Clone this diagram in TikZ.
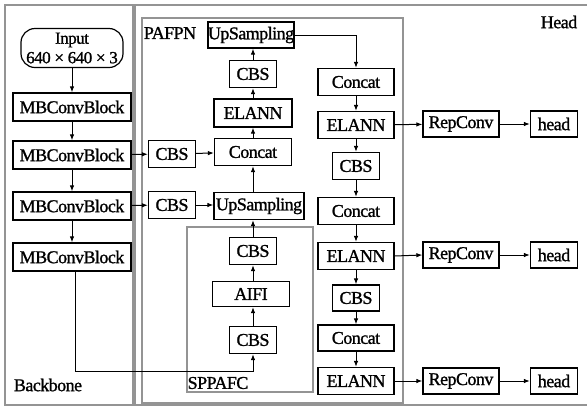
\documentclass[tikz,border=0pt]{standalone}
\usepackage{fontspec}
\setmainfont{Liberation Serif}
\newfontfamily\dfont{Liberation Serif}[FakeBold=1.2,LetterSpace=-3]
\usetikzlibrary{arrows.meta}
\begin{document}
\begin{tikzpicture}[x=1pt,y=-1pt,
  every node/.style={font=\dfont\fontsize{18}{17}\selectfont},
  blk/.style={draw=black,line width=1.2pt,inner sep=0pt,minimum height=27pt},
  frm/.style={draw=black!42,line width=1.4pt},
  lbl/.style={inner sep=0pt},
  arr/.style={draw=black,line width=1pt,-{Latex[length=6pt,width=4.5pt]}},
  ln/.style={draw=black,line width=1pt}]
\useasboundingbox (0,0) rectangle (587,408);
% frames
\draw[frm] (5,5) rectangle (133,405);
\draw[frm] (590,5) -- (135,5) -- (135,405) -- (590,405);
\draw[frm] (142,18) rectangle (403,403);
\draw[frm] (187,227) rectangle (313,392);
% labels
\node[lbl] (lpafpn) at (170,33) {PAFPN};
\node[lbl] (lhead) at (559,22) {Head};
\node[lbl] (lback) at (48,385) {Backbone};
\node[lbl] (lspp) at (218,383) {SPPAFC};
% backbone
\node[blk,rounded corners=14pt,minimum width=102pt,minimum height=39pt,align=center,inner sep=0pt,font=\dfont\fontsize{17}{19.5}\selectfont] (inp) at (72,48) {Input\\640 × 640 × 3};
\node[blk,minimum width=118pt,minimum height=28pt] (mb1) at (72,107) {MBConvBlock};
\node[blk,minimum width=118pt,minimum height=28pt] (mb2) at (72,155) {MBConvBlock};
\node[blk,minimum width=118pt,minimum height=28pt] (mb3) at (72,206) {MBConvBlock};
\node[blk,minimum width=118pt,minimum height=28pt] (mb4) at (72,257) {MBConvBlock};
% PAFPN left
\node[blk,minimum width=47pt] (cbsA) at (172,154) {CBS};
\node[blk,minimum width=47pt] (cbsB) at (172,205) {CBS};
\node[blk,minimum width=77pt] (concatL) at (253,152) {Concat};
\node[blk,minimum width=90pt] (upL) at (259,206) {UpSampling};
\node[blk,minimum width=78pt,minimum height=28pt] (elannL) at (253,113) {ELANN};
\node[blk,minimum width=47pt] (cbsT) at (253,74) {CBS};
\node[blk,minimum width=86pt,minimum height=26pt] (upT) at (251,35) {UpSampling};
% SPPAFC
\node[blk,minimum width=47pt] (cbsS1) at (253,251) {CBS};
\node[blk,minimum width=77pt,minimum height=25pt] (aifi) at (251,294) {AIFI};
\node[blk,minimum width=47pt] (cbsS2) at (253,340) {CBS};
% right column
\node[blk,minimum width=76pt] (concatR1) at (356,82) {Concat};
\node[blk,minimum width=76pt] (elannR1) at (356,125) {ELANN};
\node[blk,minimum width=47pt] (cbsR1) at (356,166) {CBS};
\node[blk,minimum width=76pt] (concatR2) at (356,211) {Concat};
\node[blk,minimum width=76pt] (elannR2) at (356,256) {ELANN};
\node[blk,minimum width=47pt,minimum height=26pt] (cbsR2) at (356,298) {CBS};
\node[blk,minimum width=76pt,minimum height=26pt] (concatR3) at (356,338) {Concat};
\node[blk,minimum width=76pt] (elannR3) at (356,381) {ELANN};
% head
\node[blk,minimum width=76pt,minimum height=26pt] (rep1) at (461,124) {RepConv};
\node[blk,minimum width=76pt,minimum height=26pt] (rep2) at (461,255) {RepConv};
\node[blk,minimum width=76pt,minimum height=26pt] (rep3) at (461,381) {RepConv};
\node[blk,minimum width=47pt,minimum height=26pt] (head1) at (554,124) {head};
\node[blk,minimum width=47pt,minimum height=26pt] (head2) at (554,255) {head};
\node[blk,minimum width=47pt,minimum height=26pt] (head3) at (554,381) {head};
% backbone arrows
\draw[arr] (inp) -- (mb1);
\draw[arr] (mb1) -- (mb2);
\draw[arr] (mb2) -- (mb3);
\draw[arr] (mb3) -- (mb4);
\coordinate (turn) at (75,371);
\draw[arr] ([xshift=3pt]mb4.south) -- (turn) -| (cbsS2.south);
% lateral
\draw[arr] (mb2) -- (cbsA);
\draw[arr] (mb3) -- (cbsB);
\draw[arr] (cbsA) -- (concatL);
\draw[arr] (cbsB) -- (upL.west |- cbsB);
% left column upward
\draw[arr] (cbsS2) -- (aifi.south -| cbsS2);
\draw[arr] (aifi.north -| cbsS1) -- (cbsS1);
\draw[arr] (cbsS1) -- (upL.south -| cbsS1);
\draw[arr] (upL.north -| concatL) -- (concatL);
\draw[arr] (concatL) -- (elannL);
\draw[arr] (elannL) -- (cbsT);
\draw[arr] (cbsT) -- (upT.south -| cbsT);
\draw[arr] (upT.east) -| (concatR1.north);
% right column downward
\draw[arr] (concatR1) -- (elannR1);
\draw[arr] (elannR1) -- (cbsR1);
\draw[arr] (cbsR1) -- (concatR2);
\draw[arr] (concatR2) -- (elannR2);
\draw[arr] (elannR2) -- (cbsR2);
\draw[arr] (cbsR2) -- (concatR3);
\draw[arr] (concatR3) -- (elannR3);
% head
\draw[arr] (elannR1) -- (rep1);
\draw[arr] (elannR2.east) -- (rep2.west);
\draw[arr] (elannR3) -- (rep3);
\draw[arr] (rep1) -- (head1);
\draw[arr] (rep2) -- (head2);
\draw[arr] (rep3) -- (head3);
\end{tikzpicture}
\end{document}
